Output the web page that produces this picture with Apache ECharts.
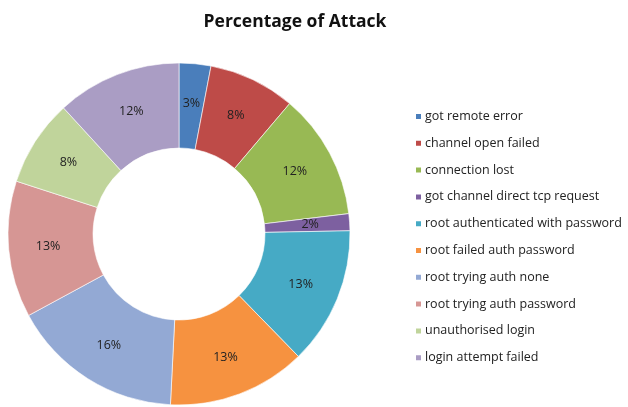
<!DOCTYPE html>
<html>
<head>
<meta charset="utf-8">
<script src="https://cdn.jsdelivr.net/npm/echarts@6/dist/echarts.min.js"></script>
<style>
  html, body { margin: 0; padding: 0; background: #fff; }
  #chart { width: 628px; height: 407px; }
</style>
</head>
<body>
<div id="chart"></div>
<script>
// slice names, in clockwise order from 12 o'clock
const categories = [
  'got remote error',
  'channel open failed',
  'connection lost',
  'got channel direct tcp request',
  'root authenticated with password',
  'root failed auth password',
  'root trying auth none',
  'root trying auth password',
  'unauthorised login',
  'login attempt failed'
];
// shares (labels show them rounded)
const shares = [3.0, 8.2, 11.9, 1.6, 13.0, 13.1, 16.3, 12.9, 8.2, 11.8];
const colors = ['#4a7ebb', '#be4b48', '#98b954', '#7d60a0', '#46aac5',
                '#f69240', '#93a9d4', '#d69694', '#c0d49b', '#aa9dc4'];

const chart = echarts.init(document.getElementById('chart'));

const option = {
  animation: false,
  color: colors,
  title: {
    text: 'Percentage of Attack',
    left: 290,
    textAlign: 'center',
    top: 8,
    textStyle: { fontFamily: 'Open Sans', fontWeight: 'bold', fontSize: 17.5, color: '#111' }
  },
  legend: {
    orient: 'vertical',
    left: 409,
    top: 104,
    icon: 'rect',
    itemWidth: 7,
    itemHeight: 7,
    itemGap: 11.8,
    data: categories,
    textStyle: { fontFamily: 'Open Sans', fontSize: 12.5, color: '#222', lineHeight: 15, padding: [0, 0, 0, -2] }
  },
  series: [
    {
      type: 'pie',
      center: [179, 234],
      radius: [86, 171],
      startAngle: 90,
      clockwise: true,
      avoidLabelOverlap: false,
      itemStyle: { borderColor: '#fff', borderWidth: 0.6 },
      label: {
        position: 'inside',
        formatter: p => Math.round(p.value) + '%',
        fontFamily: 'Open Sans',
        fontSize: 12.5,
        color: '#222'
      },
      labelLine: { show: false },
      data: categories.map((name, i) => ({ name, value: shares[i] }))
    }
  ]
};

chart.setOption(option);
</script>
</body>
</html>
